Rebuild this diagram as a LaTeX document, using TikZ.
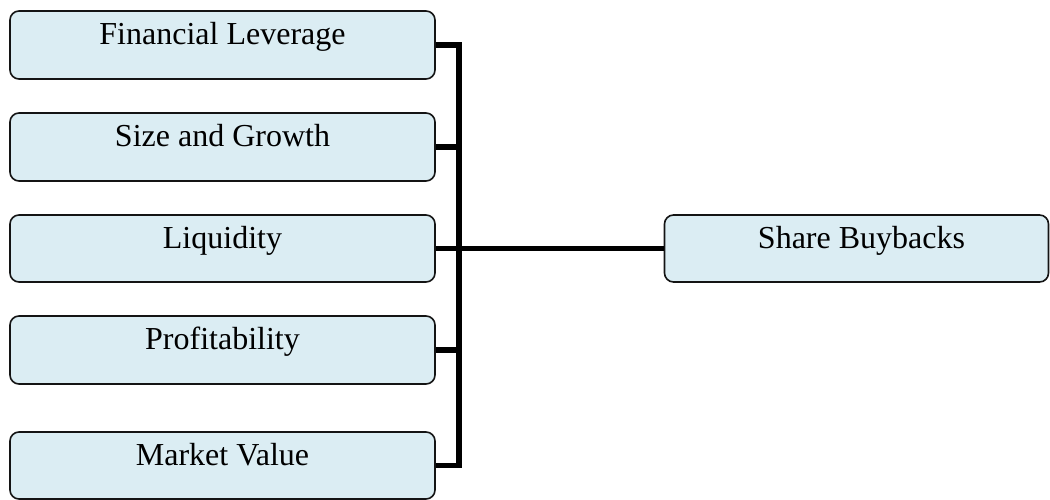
\documentclass[tikz,border=0pt]{standalone}
\usepackage{fontspec}
\setmainfont{Liberation Serif}
\definecolor{boxfill}{RGB}{219,237,243}
\definecolor{boxline}{RGB}{20,20,20}
\tikzset{
  x=1bp, y=-1bp,
  fbox/.style={draw=boxline, line width=1.6bp, fill=boxfill, rounded corners=9bp, inner sep=0pt},
  lbl/.style={anchor=base, inner sep=0pt, font=\fontsize{32bp}{38bp}\selectfont},
  conn/.style={line width=5.5bp, black},
}
\begin{document}
\begin{tikzpicture}
\useasboundingbox (0,0) rectangle (1050,500);
\node[fbox, minimum width=425bp, minimum height=68bp] (b1) at (222.5,45) {};
\node[fbox, minimum width=425bp, minimum height=68bp] (b2) at (222.5,147) {};
\node[fbox, minimum width=425bp, minimum height=67bp] (b3) at (222.5,248.5) {};
\node[fbox, minimum width=425bp, minimum height=68bp] (b4) at (222.5,350) {};
\node[fbox, minimum width=425bp, minimum height=67bp] (b5) at (222.5,465.5) {};
\node[fbox, minimum width=384bp, minimum height=67bp] (r) at (856.5,248.5) {};
\node[lbl] (t1) at (b1.center) {Financial Leverage};
\node[lbl] (t2) at (b2.center) {Size and Growth};
\node[lbl] (t3) at (b3.center) {Liquidity};
\node[lbl] (t4) at (b4.center) {Profitability};
\node[lbl] (t5) at (b5.center) {Market Value};
\node[lbl] (tr) at ([xshift=5bp]r.center) {Share Buybacks};
\coordinate (bt) at (459,45);
\coordinate (bb) at (459,465.5);
\coordinate (bm) at (459,248.5);
\draw[conn, line join=miter] (b1.east) -- (bt) -- (bb) -- (b5.east);
\draw[conn] (b2.east) -- (b2.east -| bt);
\draw[conn] (b3.east) -- (bm);
\draw[conn] (b4.east) -- (b4.east -| bt);
\draw[conn] (bm) -- (r.west);
\end{tikzpicture}
\end{document}
